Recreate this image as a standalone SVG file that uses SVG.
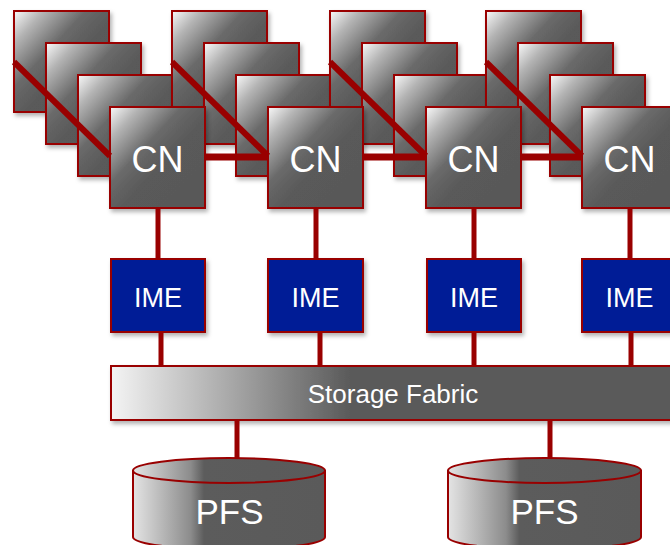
<svg xmlns="http://www.w3.org/2000/svg" width="670" height="545" viewBox="0 0 670 545">
<defs>
<linearGradient id="gBox" x1="0" y1="0" x2="1" y2="1">
<stop offset="0" stop-color="#fafafa"/>
<stop offset="0.16" stop-color="#b4b4b4"/>
<stop offset="0.38" stop-color="#6a6a6a"/>
<stop offset="0.55" stop-color="#5a5a5a"/>
<stop offset="1" stop-color="#585858"/>
</linearGradient>
<linearGradient id="gFab" gradientUnits="userSpaceOnUse" x1="111" y1="0" x2="350" y2="0">
<stop offset="0" stop-color="#f4f4f4"/>
<stop offset="0.5" stop-color="#a8a8a8"/>
<stop offset="1" stop-color="#5a5a5a"/>
</linearGradient>
<linearGradient id="gCyl" x1="0" y1="0" x2="1" y2="0">
<stop offset="0" stop-color="#e4e4e4"/>
<stop offset="0.3" stop-color="#8c8c8c"/>
<stop offset="0.37" stop-color="#5c5c5c"/>
<stop offset="1" stop-color="#5a5a5a"/>
</linearGradient>
<filter id="sh" x="-10%" y="-10%" width="130%" height="130%">
<feDropShadow dx="2" dy="3" stdDeviation="2" flood-color="#000" flood-opacity="0.3"/>
</filter>
</defs>
<style>
.box{fill:url(#gBox);stroke:#990000;stroke-width:2;filter:url(#sh)}
.ime{fill:#001a96;stroke:#990000;stroke-width:2;filter:url(#sh)}
.cyl{fill:url(#gCyl);stroke:#990000;stroke-width:2}
.lbl{font-family:"Liberation Sans",Arial,sans-serif;fill:#ffffff;text-anchor:middle}
.ln{stroke:#990000;fill:none}
</style>

<g id="nodes-back">
<rect class="box" x="14" y="11" width="95" height="101"/>
<rect class="box" x="46" y="43" width="95" height="101"/>
<rect class="box" x="78" y="75" width="95" height="101"/>
<rect class="box" x="172" y="11" width="95" height="101"/>
<rect class="box" x="204" y="43" width="95" height="101"/>
<rect class="box" x="236" y="75" width="95" height="101"/>
<rect class="box" x="330" y="11" width="95" height="101"/>
<rect class="box" x="362" y="43" width="95" height="101"/>
<rect class="box" x="394" y="75" width="95" height="101"/>
<rect class="box" x="486" y="11" width="95" height="101"/>
<rect class="box" x="518" y="43" width="95" height="101"/>
<rect class="box" x="550" y="75" width="95" height="101"/>
</g>

<g id="cn1"><rect class="box" x="110" y="107" width="95" height="101"/><text class="lbl" x="157.5" y="172" font-size="36">CN</text></g>
<g id="cn2"><rect class="box" x="268" y="107" width="95" height="101"/><text class="lbl" x="315.5" y="172" font-size="36">CN</text></g>
<g id="cn3"><rect class="box" x="426" y="107" width="95" height="101"/><text class="lbl" x="473.5" y="172" font-size="36">CN</text></g>
<g id="cn4"><rect class="box" x="582" y="107" width="95" height="101"/><text class="lbl" x="629.5" y="172" font-size="36">CN</text></g>

<g id="ime1"><rect class="ime" x="111" y="259" width="94" height="73"/><text class="lbl" x="158" y="307" font-size="27">IME</text></g>
<g id="ime2"><rect class="ime" x="268" y="259" width="95" height="73"/><text class="lbl" x="315.5" y="307" font-size="27">IME</text></g>
<g id="ime3"><rect class="ime" x="427" y="259" width="94" height="73"/><text class="lbl" x="474" y="307" font-size="27">IME</text></g>
<g id="ime4"><rect class="ime" x="582" y="259" width="95" height="73"/><text class="lbl" x="629.5" y="307" font-size="27">IME</text></g>

<g id="fabric"><rect x="111" y="366" width="570" height="54" fill="url(#gFab)" stroke="#990000" stroke-width="2" filter="url(#sh)"/><text class="lbl" x="393" y="403" font-size="26">Storage Fabric</text></g>

<g id="pfs1">
<path class="cyl" d="M133 470 L133 537 A96 12.5 0 0 0 325 537 L325 470"/>
<ellipse class="cyl" cx="229" cy="470.5" rx="96" ry="12.5"/>
<text class="lbl" x="229.5" y="524" font-size="35">PFS</text>
</g>
<g id="pfs2">
<path class="cyl" d="M448 470 L448 537 A96.5 12.5 0 0 0 641 537 L641 470"/>
<ellipse class="cyl" cx="544.5" cy="470.5" rx="96.5" ry="12.5"/>
<text class="lbl" x="544.5" y="524" font-size="35">PFS</text>
</g>

<g id="connectors">
<g class="ln" stroke-width="6">
<line x1="14" y1="62" x2="110" y2="156"/>
<line x1="172" y1="62" x2="268" y2="156"/>
<line x1="330" y1="62" x2="426" y2="156"/>
<line x1="486" y1="62" x2="582" y2="156"/>
</g>
<g class="ln" stroke-width="7">
<line x1="205" y1="157" x2="268" y2="157"/>
<line x1="363" y1="157" x2="426" y2="157"/>
<line x1="521" y1="157" x2="582" y2="157"/>
</g>
<g class="ln" stroke-width="5">
<line x1="158" y1="208" x2="158" y2="259"/>
<line x1="316" y1="208" x2="316" y2="259"/>
<line x1="474" y1="208" x2="474" y2="259"/>
<line x1="630" y1="208" x2="630" y2="259"/>
<line x1="161" y1="333" x2="161" y2="366"/>
<line x1="320" y1="333" x2="320" y2="366"/>
<line x1="474" y1="333" x2="474" y2="366"/>
<line x1="631" y1="333" x2="631" y2="366"/>
<line x1="237" y1="421" x2="237" y2="458"/>
<line x1="550" y1="421" x2="550" y2="458"/>
</g>
</g>
</svg>
